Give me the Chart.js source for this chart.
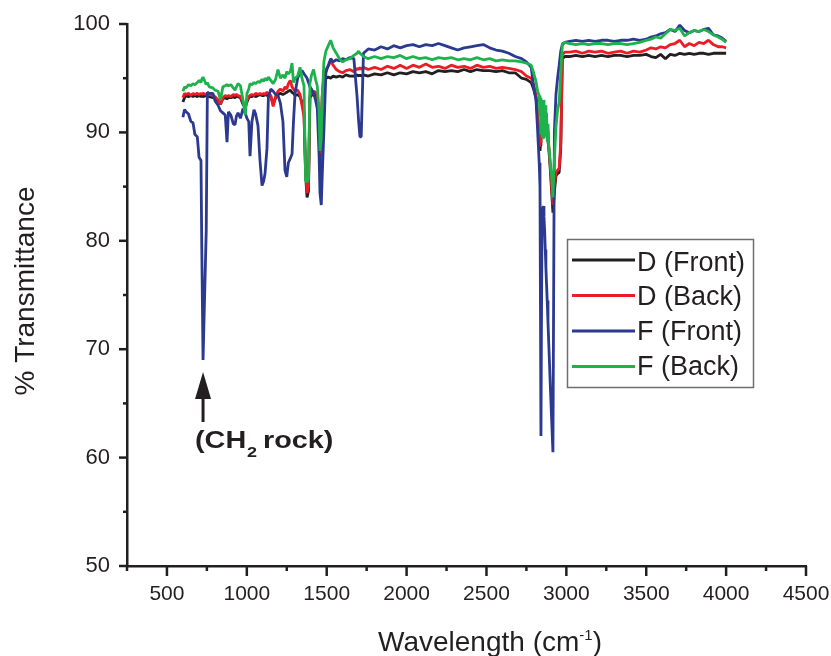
<!DOCTYPE html>
<html>
<head>
<meta charset="utf-8">
<title>% Transmittance - Wavelength</title>
<script src="https://cdn.jsdelivr.net/npm/chart.js@4.4.1/dist/chart.umd.min.js"></script>
<style>
  html, body { margin: 0; padding: 0; background: #fff; }
  #wrap { width: 831px; height: 656px; }
</style>
</head>
<body>
<div id="wrap"><canvas id="ftirChart" width="831" height="656"></canvas></div>
<script>
// shared wavenumber grid (cm-1)
const wavenumbers = [
  600, 610, 620, 635, 650, 663, 675, 690, 701, 713,
  718, 726, 746, 753, 765, 788, 801, 820, 835, 850,
  865, 876, 885, 900, 915, 926, 935, 945, 960, 976,
  990, 1001, 1012, 1020, 1032, 1045, 1055, 1070, 1082, 1095,
  1105, 1114, 1126, 1135, 1150, 1165, 1180, 1195, 1210, 1226,
  1239, 1250, 1260, 1272, 1283, 1292, 1302, 1318, 1333, 1345,
  1358, 1368, 1377, 1386, 1395, 1405, 1418, 1430, 1441, 1452,
  1458, 1466, 1472, 1482, 1495,
  1510, 1525, 1540, 1560, 1580, 1600, 1620, 1645, 1670, 1690,
  1700, 1708, 1716, 1730, 1760, 1800, 1840, 1880, 1920, 1960,
  2000, 2040, 2080, 2120, 2160, 2200, 2240, 2280, 2320, 2360,
  2400, 2440, 2480, 2520, 2560, 2600, 2640, 2680, 2720, 2750,
  2780,
  2795, 2810, 2820, 2830, 2835, 2838, 2841, 2844, 2848, 2852,
  2856, 2860, 2864, 2868, 2872, 2876, 2880, 2885, 2890, 2895,
  2900, 2908, 2916, 2925, 2935, 2945, 2955, 2965, 2975, 2990,
  3020, 3060, 3100, 3140, 3180, 3220, 3260, 3300, 3340, 3380,
  3420, 3460, 3500, 3530, 3560, 3590, 3620, 3650, 3680, 3710,
  3740, 3770, 3800, 3830, 3860, 3890, 3920, 3950, 3975, 4000
];

// D (Front)
const dFront = [
  92.8, 93.2, 93.4, 93.3, 93.4, 93.3, 93.4, 93.3, 93.4, 93.3,
  93.4, 93.3, 93.4, 93.3, 93.3, 93.2, 93.2, 92.9, 92.6, 93.1,
  93.2, 93.1, 93.2, 93.2, 93.3, 93.2, 93.3, 93.3, 93.2, 92.6,
  92.3, 92.8, 93.2, 93.3, 93.3, 93.4, 93.3, 93.4, 93.5, 93.4,
  93.4, 93.5, 93.4, 93.5, 93.3, 92.6, 93.2, 93.5, 93.6, 93.5,
  93.6, 93.7, 93.8, 93.9, 93.7, 93.6, 93.4, 93.5, 93.3, 92.8,
  91.8, 86.0, 84.0, 84.6, 93.2, 93.4, 93.6, 93.5, 93.3, 91.0,
  87.7, 89.5, 93.3, 94.6, 95.0,
  95.1, 95.0, 95.2, 95.1, 95.2, 95.1, 95.3, 95.2, 95.2, 95.3,
  95.2, 95.3, 95.2, 95.3, 95.2, 95.4, 95.3, 95.5, 95.3, 95.5,
  95.4, 95.6, 95.5, 95.6, 95.4, 95.7, 95.6, 95.7, 95.6, 95.8,
  95.6, 95.8, 95.7, 95.7, 95.6, 95.7, 95.5, 95.5, 95.0, 94.9,
  94.6,
  94.0, 93.2, 91.4, 89.3, 88.3, 88.8, 89.5, 90.2, 91.0, 90.6,
  90.5, 91.0, 91.2, 90.6, 90.2, 90.4, 90.0, 89.2, 88.5, 87.5,
  86.5, 84.5, 82.6, 84.5, 86.0, 86.2, 86.3, 88.5, 96.8, 97.0,
  97.0, 97.1, 97.0, 97.1, 97.0, 97.1, 97.0, 97.1, 97.1, 97.0,
  97.1, 97.1, 97.2, 97.0, 96.9, 97.2, 96.8, 97.2, 97.1, 97.3,
  97.2, 97.3, 97.2, 97.3, 97.3, 97.2, 97.3, 97.3, 97.3, 97.3
];

// D (Back)
const dBack = [
  93.2, 93.6, 93.5, 93.6, 93.4, 93.6, 93.5, 93.6, 93.5, 93.6,
  93.5, 93.6, 93.5, 93.6, 93.5, 93.4, 93.3, 93.0, 92.6, 93.2,
  93.4, 93.3, 93.4, 93.3, 93.5, 93.4, 93.5, 93.4, 93.3, 92.8,
  92.4, 93.0, 93.3, 93.4, 93.5, 93.4, 93.6, 93.5, 93.6, 93.5,
  93.6, 93.5, 93.7, 93.6, 93.4, 92.4, 93.3, 93.8, 94.0, 93.8,
  94.2, 94.0, 94.5, 94.8, 94.2, 94.0, 93.8, 93.9, 93.5, 92.5,
  91.5, 86.5, 84.4, 85.0, 93.4, 93.6, 93.8, 93.7, 93.5, 91.2,
  87.9, 89.8, 93.5, 95.2, 95.8,
  96.1, 96.6, 96.2, 95.8, 95.6, 95.5, 95.7, 95.8, 95.6, 95.9,
  95.8, 96.0, 95.8, 96.0, 95.8, 96.0, 95.8, 96.1, 95.9, 96.2,
  95.9, 96.2, 96.0, 96.3, 96.0, 96.1, 95.9, 96.2, 96.0, 96.1,
  95.9, 96.2, 96.0, 96.1, 95.9, 96.0, 95.9, 95.8, 95.6, 95.2,
  95.0,
  94.4, 93.5, 91.8, 89.6, 88.7, 89.1, 89.8, 90.5, 91.2, 90.9,
  90.8, 91.3, 91.5, 90.9, 90.5, 90.7, 90.2, 89.5, 88.8, 87.8,
  86.8, 85.0, 83.3, 85.0, 86.3, 86.5, 86.7, 89.0, 97.2, 97.4,
  97.4, 97.5, 97.3, 97.5, 97.4, 97.5, 97.3, 97.4, 97.5, 97.3,
  97.5, 97.4, 97.6, 97.8, 97.7, 97.9, 97.8, 98.1, 98.2, 98.5,
  97.9, 98.2, 98.0, 98.3, 98.2, 98.5, 98.1, 97.9, 97.9, 97.8
];

// F (Front)
const fFront = [
  91.4, 92.1, 91.9, 91.7, 91.0, 90.9, 89.8, 89.6, 87.7, 87.4,
  79.5, 69.0, 81.0, 93.7, 93.6, 93.6, 92.9, 92.5, 92.0, 91.8,
  91.6, 89.1, 91.9, 91.6, 90.8, 90.7, 91.5, 91.8, 91.3, 92.2,
  91.8, 91.3, 91.0, 87.8, 91.0, 92.1, 91.7, 90.6, 87.5, 85.1,
  85.5, 86.2, 88.5, 93.2, 94.0, 93.8, 93.5, 93.4, 92.7, 91.0,
  86.5, 85.9, 87.2, 87.6, 88.0, 91.0, 93.6, 95.0, 95.5, 95.7,
  95.4, 95.2, 95.0, 94.6, 94.2, 94.0, 93.6, 93.0, 92.2, 88.0,
  84.4, 83.3, 86.0, 90.0, 95.5,
  96.2, 96.8, 96.5, 96.7, 96.6, 96.8, 96.7, 96.9, 96.8, 93.3,
  91.0, 89.6, 89.6, 97.3, 97.7, 97.6, 97.9, 97.7, 98.0, 97.8,
  98.0, 98.1, 97.9, 98.1, 98.0, 98.2, 98.0, 97.8, 97.6, 97.8,
  97.9, 98.0, 98.1, 97.8, 97.6, 97.5, 97.3, 97.0, 96.8, 96.5,
  96.0,
  94.2, 93.0, 90.2, 87.2, 85.0, 74.0, 62.0, 72.0, 82.5, 83.0,
  83.2, 82.2, 81.0, 79.2, 77.5, 76.0, 74.5, 72.5, 70.5, 68.5,
  66.5, 63.5, 60.5, 90.0, 93.5, 95.0, 96.2, 97.5, 98.1, 98.3,
  98.4, 98.5, 98.4, 98.5, 98.4, 98.5, 98.5, 98.4, 98.5, 98.5,
  98.6, 98.5, 98.6, 98.8, 98.9, 99.1, 99.2, 99.5, 99.3, 99.9,
  99.4, 99.2, 99.4, 99.3, 99.5, 99.6, 99.0, 98.9, 98.7, 98.4
];

// F (Back)
const fBack = [
  93.8, 94.2, 94.1, 94.4, 94.3, 94.5, 94.4, 94.6, 94.8, 94.6,
  94.9, 95.1, 94.4, 94.6, 94.2, 94.1, 93.9, 93.8, 93.0, 94.2,
  94.3, 94.4, 94.3, 94.4, 94.1, 93.9, 94.2, 94.5, 94.3, 93.0,
  91.6, 93.6, 94.0, 94.5, 94.4, 94.6, 94.5, 94.7, 94.6, 94.9,
  94.7, 95.0, 94.8, 95.1, 94.8, 94.5, 94.9, 95.8, 95.0, 95.3,
  95.0, 95.6, 95.4, 95.6, 96.4, 94.6, 95.0, 95.2, 96.0, 95.0,
  94.3, 85.6, 85.4, 85.8, 94.5, 95.3, 95.8, 94.9, 94.3, 92.0,
  88.3, 89.5, 93.0, 96.5, 97.5,
  98.0, 98.5, 97.8, 97.3, 96.8, 96.5, 96.7, 96.8, 97.1, 97.3,
  97.5, 97.3, 97.2, 97.0, 96.8, 97.0, 96.8, 97.0, 96.9, 97.1,
  96.8, 97.0, 96.8, 96.9, 96.7, 96.9, 96.8, 96.9, 96.7, 96.8,
  96.7, 96.9, 96.7, 96.8, 96.6, 96.7, 96.6, 96.6, 96.5, 96.4,
  96.2,
  95.5, 94.7, 93.8, 93.4, 91.5, 93.2, 89.8, 93.0, 89.6, 92.8,
  89.5, 93.0, 89.8, 92.5, 89.6, 91.8, 89.2, 90.8, 88.6, 88.0,
  87.0, 86.0, 84.0, 87.5, 90.5, 92.0, 92.8, 95.5, 98.2, 98.3,
  98.2, 98.1, 98.2, 98.1, 98.2, 98.2, 98.1, 98.2, 98.2, 98.1,
  98.2, 98.3, 98.5, 98.6, 98.8, 98.7, 99.1, 99.5, 99.4, 99.6,
  98.9, 99.2, 99.4, 99.3, 99.5, 99.3, 99.0, 98.8, 98.6, 98.3
];

const seriesLabels = ["D (Front)", "D (Back)", "F (Front)", "F (Back)"];
const xTickValues = [500, 1000, 1500, 2000, 2500, 3000, 3500, 4000, 4500];
const xMinorValues = [250, 750, 1250, 1750, 2250, 2750, 3250, 3750, 4250];
const yTickValues = [50, 60, 70, 80, 90, 100];
const yMinorValues = [55, 65, 75, 85, 95];
const ch2RockWavenumber = 726;

const seriesColors = ["#231f20", "#ed1c24", "#2b3990", "#1db24b"];
const ink = "#231f20";
const fontFamily = '"Liberation Sans", Arial, Helvetica, sans-serif';

document.addEventListener("DOMContentLoaded", function () {

    /** ========== ticks, titles, legend, annotation ========== */
    const decorPlugin = {
        id: "decor",
        afterDraw(chart) {
            const ctx = chart.ctx;
            const area = chart.chartArea;
            const xs = chart.scales.x;
            const ys = chart.scales.y;

            const seg = (x1, y1, x2, y2) => {
                ctx.beginPath();
                ctx.moveTo(x1, y1);
                ctx.lineTo(x2, y2);
                ctx.stroke();
            };

            ctx.save();
            ctx.strokeStyle = ink;
            ctx.fillStyle = ink;
            ctx.lineWidth = 2.5;
            ctx.lineCap = "butt";

            // tick marks (outside)
            yTickValues.forEach(v => { const p = ys.getPixelForValue(v); seg(area.left - 8, p, area.left, p); });
            yMinorValues.forEach(v => { const p = ys.getPixelForValue(v); seg(area.left - 4, p, area.left, p); });
            xTickValues.forEach(v => { const p = xs.getPixelForValue(v); seg(p, area.bottom, p, area.bottom + 10); });
            xMinorValues.forEach(v => { const p = xs.getPixelForValue(v); seg(p, area.bottom, p, area.bottom + 5); });

            // y title
            ctx.save();
            ctx.font = "28px " + fontFamily;
            ctx.textAlign = "center";
            ctx.textBaseline = "alphabetic";
            ctx.translate(34, 291);
            ctx.rotate(-Math.PI / 2);
            ctx.fillText("% Transmittance", 0, 0);
            ctx.restore();

            // x title with superscript
            const mainText = "Wavelength (cm";
            const supText = "-1";
            const closeText = ")";
            ctx.textAlign = "left";
            ctx.textBaseline = "alphabetic";
            ctx.font = "28px " + fontFamily;
            const w1 = ctx.measureText(mainText).width;
            const w3 = ctx.measureText(closeText).width;
            ctx.font = "15px " + fontFamily;
            const w2 = ctx.measureText(supText).width;
            let sx = 490 - (w1 + w2 + w3) / 2;
            ctx.font = "28px " + fontFamily;
            ctx.fillText(mainText, sx, 651);
            ctx.font = "15px " + fontFamily;
            ctx.fillText(supText, sx + w1, 640);
            ctx.font = "28px " + fontFamily;
            ctx.fillText(closeText, sx + w1 + w2, 651);

            // legend box
            ctx.strokeStyle = "#6d6e71";
            ctx.lineWidth = 1.5;
            ctx.strokeRect(567.5, 239.5, 186, 148);
            ctx.font = "27px " + fontFamily;
            seriesLabels.forEach((label, i) => {
                const ly = 260 + i * 35.5;
                ctx.strokeStyle = seriesColors[i];
                ctx.lineWidth = 3;
                seg(572, ly, 635, ly);
                ctx.fillStyle = ink;
                ctx.fillText(label, 637, 270.5 + i * 34.8);
            });

            // CH2 rock arrow
            const ax = xs.getPixelForValue(ch2RockWavenumber);
            ctx.strokeStyle = ink;
            ctx.fillStyle = ink;
            ctx.lineWidth = 3;
            seg(ax, 422, ax, 396);
            ctx.beginPath();
            ctx.moveTo(ax, 372);
            ctx.lineTo(ax - 8, 399);
            ctx.lineTo(ax + 8, 399);
            ctx.closePath();
            ctx.fill();

            // (CH2 rock) label
            const stretched = (text, x, y, font) => {
                ctx.save();
                ctx.font = font;
                ctx.translate(x, y);
                ctx.scale(1.2, 1);
                ctx.fillText(text, 0, 0);
                ctx.restore();
            };
            stretched("(CH", 195, 448, "bold 24px " + fontFamily);
            stretched("2", 247, 457, "bold 15px " + fontFamily);
            stretched("rock)", 263, 448, "bold 24px " + fontFamily);

            ctx.restore();
        }
    };

    /** ========== chart ========== */
    const toPoints = values => wavenumbers.map((w, i) => ({ x: w, y: values[i] }));
    const seriesValues = [dFront, dBack, fFront, fBack];

    new Chart(document.getElementById("ftirChart"), {
        type: "line",
        data: {
            datasets: seriesValues.map((vals, i) => ({
                label: seriesLabels[i],
                data: toPoints(vals),
                borderColor: seriesColors[i],
                backgroundColor: seriesColors[i],
                borderWidth: 2.8,
                borderJoinStyle: "bevel",
                pointRadius: 0,
                tension: 0,
                fill: false,
                order: 4 - i
            }))
        },
        options: {
            responsive: false,
            animation: false,
            devicePixelRatio: 1,
            events: [],
            layout: { padding: { left: 0, right: 25, top: 24, bottom: 0 } },
            plugins: {
                legend: { display: false },
                tooltip: { enabled: false }
            },
            scales: {
                x: {
                    type: "linear",
                    min: 250,
                    max: 4500,
                    afterBuildTicks: s => { s.ticks = xTickValues.map(v => ({ value: v })); },
                    afterFit: s => { s.height = 90; },
                    // tick marks are drawn by the plugin; tickLength only spaces the labels
                    grid: { display: false, drawTicks: true, tickLength: 16 },
                    border: { display: true, color: ink, width: 2.5 },
                    ticks: {
                        autoSkip: false,
                        maxRotation: 0,
                        padding: 0,
                        color: ink,
                        font: { family: fontFamily, size: 21 },
                        callback: v => String(v)
                    }
                },
                y: {
                    type: "linear",
                    min: 50,
                    max: 100,
                    afterBuildTicks: s => { s.ticks = yTickValues.map(v => ({ value: v })); },
                    afterFit: s => { s.width = 127; },
                    grid: { display: false, drawTicks: true, tickLength: 17 },
                    border: { display: true, color: ink, width: 2.5 },
                    ticks: {
                        autoSkip: false,
                        padding: 0,
                        color: ink,
                        font: { family: fontFamily, size: 22 },
                        callback: v => String(v)
                    }
                }
            }
        },
        plugins: [decorPlugin]
    });
});
</script>
</body>
</html>
